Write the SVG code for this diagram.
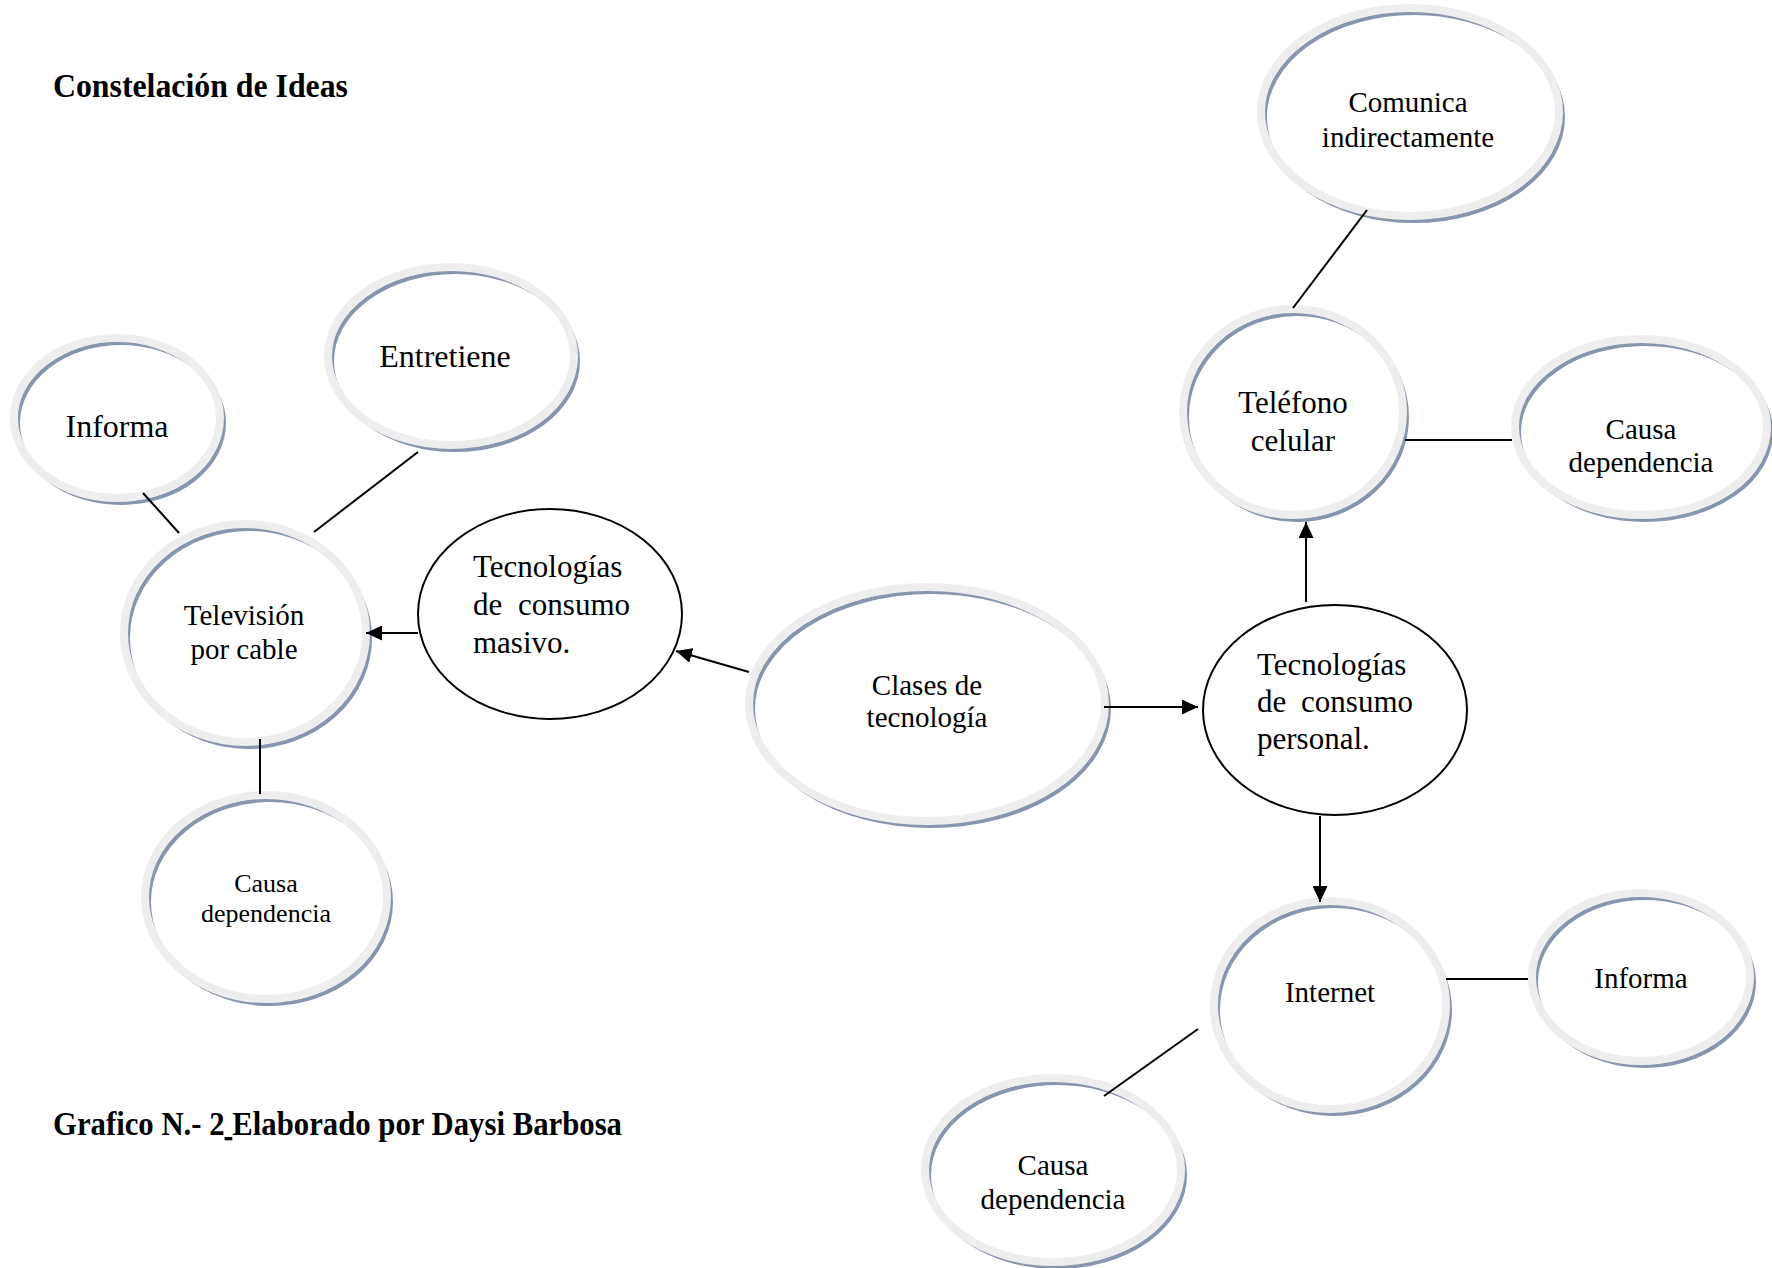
<svg xmlns="http://www.w3.org/2000/svg" width="1772" height="1268" viewBox="0 0 1772 1268">
<defs>
<style>
.bg{fill:#ffffff}
.fill{fill:#ffffff;stroke:none}
.sh{fill:none;stroke:#8796ad;stroke-width:4}
.hl{fill:none;stroke:#eeeeee;stroke-width:8}
.plain{fill:#ffffff;stroke:#000000;stroke-width:2}
.t{font-family:"Liberation Serif","Times New Roman",serif;fill:#000000}
.c{text-anchor:middle}
.title{font-family:"Liberation Serif","Times New Roman",serif;font-weight:bold;font-size:33px;fill:#000000}
.ln{stroke:#000000;stroke-width:2;fill:none}
.ar{stroke:#000000;stroke-width:2;fill:none;marker-end:url(#ah)}
</style>
<marker id="ah" viewBox="0 0 16 15" refX="16" refY="7.5" markerWidth="16" markerHeight="15" markerUnits="userSpaceOnUse" orient="auto">
<path d="M0,0 L16,7.5 L0,15 Z" fill="#000000"/>
</marker>
</defs>
<rect class="bg" x="0" y="0" width="1772" height="1268"/>

<text class="title" x="53" y="97" textLength="295" lengthAdjust="spacingAndGlyphs">Constelación de Ideas</text>
<text class="title" x="53" y="1135" textLength="569" lengthAdjust="spacingAndGlyphs">Grafico N.- 2<tspan text-decoration="underline"> </tspan>Elaborado por Daysi Barbosa</text>

<g id="informa-left" transform="translate(117,418)">
<ellipse class="fill" rx="103" ry="80"/>
<ellipse class="sh" cx="4" cy="5" rx="103" ry="80"/>
<ellipse class="hl" rx="103" ry="80"/>
<text class="t c" x="0" y="19" font-size="32">Informa</text>
</g>

<g id="entretiene" transform="translate(451,356)">
<ellipse class="fill" rx="123" ry="89"/>
<ellipse class="sh" cx="4" cy="5" rx="123" ry="89"/>
<ellipse class="hl" rx="123" ry="89"/>
<text class="t c" x="-6" y="11" font-size="32">Entretiene</text>
</g>

<g id="television" transform="translate(245,633)">
<ellipse class="fill" rx="121" ry="109"/>
<ellipse class="sh" cx="4" cy="5" rx="121" ry="109"/>
<ellipse class="hl" rx="121" ry="109"/>
<text class="t c" x="-1" y="-8" font-size="29">Televisión</text>
<text class="t c" x="-1" y="26" font-size="29">por cable</text>
</g>

<g id="causa-left" transform="translate(266,897)">
<ellipse class="fill" rx="121" ry="102"/>
<ellipse class="sh" cx="4" cy="5" rx="121" ry="102"/>
<ellipse class="hl" rx="121" ry="102"/>
<text class="t c" x="0" y="-5" font-size="26">Causa</text>
<text class="t c" x="0" y="25" font-size="26">dependencia</text>
</g>

<g id="masivo" transform="translate(550,614)">
<ellipse class="plain" rx="132" ry="105"/>
<text class="t" x="-77" y="-37" font-size="31">Tecnologías</text>
<text class="t" x="-77" y="1" font-size="31">de</text>
<text class="t" x="80" y="1" font-size="31" text-anchor="end">consumo</text>
<text class="t" x="-77" y="39" font-size="31">masivo.</text>
</g>

<g id="clases" transform="translate(927,704)">
<ellipse class="fill" rx="178" ry="117"/>
<ellipse class="sh" cx="4" cy="5" rx="178" ry="117"/>
<ellipse class="hl" rx="178" ry="117"/>
<text class="t c" x="0" y="-9" font-size="29">Clases de</text>
<text class="t c" x="0" y="23" font-size="29">tecnología</text>
</g>

<g id="personal" transform="translate(1335,710)">
<ellipse class="plain" rx="132" ry="105"/>
<text class="t" x="-78" y="-35" font-size="31">Tecnologías</text>
<text class="t" x="-78" y="2" font-size="31">de</text>
<text class="t" x="78" y="2" font-size="31" text-anchor="end">consumo</text>
<text class="t" x="-78" y="39" font-size="31">personal.</text>
</g>

<g id="telefono" transform="translate(1293,412)">
<ellipse class="fill" rx="110" ry="103"/>
<ellipse class="sh" cx="4" cy="5" rx="110" ry="103"/>
<ellipse class="hl" rx="110" ry="103"/>
<text class="t c" x="0" y="1" font-size="31">Teléfono</text>
<text class="t c" x="0" y="39" font-size="31">celular</text>
</g>

<g id="comunica" transform="translate(1410,112)">
<ellipse class="fill" rx="149" ry="104"/>
<ellipse class="sh" cx="4" cy="5" rx="149" ry="104"/>
<ellipse class="hl" rx="149" ry="104"/>
<text class="t c" x="-2" y="0" font-size="29">Comunica</text>
<text class="t c" x="-2" y="35" font-size="29">indirectamente</text>
</g>

<g id="causa-right" transform="translate(1641,427)">
<ellipse class="fill" rx="126" ry="88"/>
<ellipse class="sh" cx="4" cy="5" rx="126" ry="88"/>
<ellipse class="hl" rx="126" ry="88"/>
<text class="t c" x="0" y="12" font-size="29">Causa</text>
<text class="t c" x="0" y="45" font-size="29">dependencia</text>
</g>

<g id="internet" transform="translate(1330,1005)">
<ellipse class="fill" rx="116" ry="104"/>
<ellipse class="sh" cx="4" cy="5" rx="116" ry="104"/>
<ellipse class="hl" rx="116" ry="104"/>
<text class="t c" x="0" y="-3" font-size="29">Internet</text>
</g>

<g id="informa-right" transform="translate(1641,977)">
<ellipse class="fill" rx="109" ry="84"/>
<ellipse class="sh" cx="4" cy="5" rx="109" ry="84"/>
<ellipse class="hl" rx="109" ry="84"/>
<text class="t c" x="0" y="11" font-size="29">Informa</text>
</g>

<g id="causa-bottom" transform="translate(1053,1170)">
<ellipse class="fill" rx="128" ry="92"/>
<ellipse class="sh" cx="4" cy="5" rx="128" ry="92"/>
<ellipse class="hl" rx="128" ry="92"/>
<text class="t c" x="0" y="5" font-size="29">Causa</text>
<text class="t c" x="0" y="39" font-size="29">dependencia</text>
</g>

<g id="connectors">
<line class="ln" x1="143" y1="493" x2="179" y2="533"/>
<line class="ln" x1="418" y1="452" x2="314" y2="532"/>
<line class="ln" x1="260" y1="739" x2="260" y2="794"/>
<line class="ar" x1="418" y1="633" x2="366" y2="633"/>
<line class="ar" x1="749" y1="672" x2="676" y2="651"/>
<line class="ar" x1="1104" y1="707" x2="1198" y2="707"/>
<line class="ar" x1="1306" y1="602" x2="1306" y2="522"/>
<line class="ar" x1="1320" y1="816" x2="1320" y2="902"/>
<line class="ln" x1="1293" y1="308" x2="1367" y2="210"/>
<line class="ln" x1="1405" y1="440" x2="1512" y2="440"/>
<line class="ln" x1="1446" y1="979" x2="1528" y2="979"/>
<line class="ln" x1="1198" y1="1029" x2="1104" y2="1096"/>
</g>
</svg>
